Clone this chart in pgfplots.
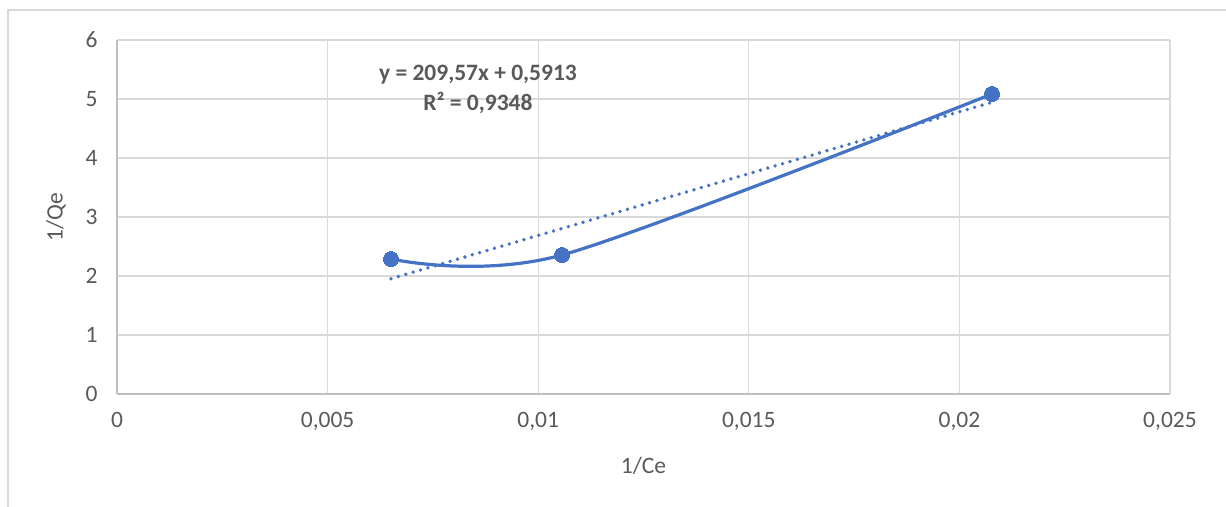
\documentclass[border=0pt]{standalone}
\usepackage{pgfplots}
\pgfplotsset{compat=1.18}
\usepackage{fontspec}
\setmainfont{Carlito}
\definecolor{txt}{HTML}{595959}
\definecolor{gridc}{HTML}{D9D9D9}
\definecolor{axisc}{HTML}{BFBFBF}
\definecolor{ser}{HTML}{4472C4}
\begin{document}
\begin{tikzpicture}[x=1pt,y=1pt]
\path[use as bounding box] (0,0) rectangle (1226,-506);
\draw[gridc, line width=1.4pt] (8,-510) -- (8,-10) -- (1230,-10);
\begin{axis}[
  at={(117pt,-394pt)}, anchor=south west,
  scale only axis, width=1053pt, height=354pt,
  xmin=0, xmax=0.025, ymin=0, ymax=6,
  scaled x ticks=false, scaled y ticks=false,
  xtick={0,0.005,0.01,0.015,0.02,0.025},
  xticklabels={0,{0,005},{0,01},{0,015},{0,02},{0,025}},
  ytick={0,1,2,3,4,5,6},
  yticklabels={0,1,2,3,4,5,6},
  grid=major, major grid style={gridc, line width=1.2pt},
  axis lines*=left, axis line style={axisc, line width=1.2pt, -},
  major tick length=0pt,
  tick label style={font=\fontsize{23.5}{28}\selectfont, text=txt},
  xticklabel style={yshift=-15pt},
  yticklabel style={xshift=-16pt},
  xlabel={1/Ce}, ylabel={1/Qe},
  label style={font=\fontsize{23.5}{28}\selectfont, text=txt},
  xlabel style={at={(axis description cs:0.5,-0.203)}, anchor=center},
  ylabel style={at={(axis description cs:-0.058,0.5)}, anchor=center},
  clip=false,
]
\addplot[ser, line width=3.2pt, smooth, tension=0.5, mark=*, mark size=7.5pt,
  mark options={solid, fill=ser, draw=ser, line width=0pt}]
  coordinates {(0.006505,2.288) (0.010565,2.356) (0.020774,5.085)};
\addplot[ser, line width=3.8pt, line cap=round, dash pattern=on 0pt off 7.7pt]
  coordinates {(0.006505,1.9546) (0.020774,4.9449)};
\node[font=\fontsize{23.5}{30}\selectfont\bfseries, text=txt, align=center]
  at (axis cs:0.00857,5.17) {y = 209,57x + 0,5913\\R² = 0,9348};
\end{axis}
\end{tikzpicture}
\end{document}
